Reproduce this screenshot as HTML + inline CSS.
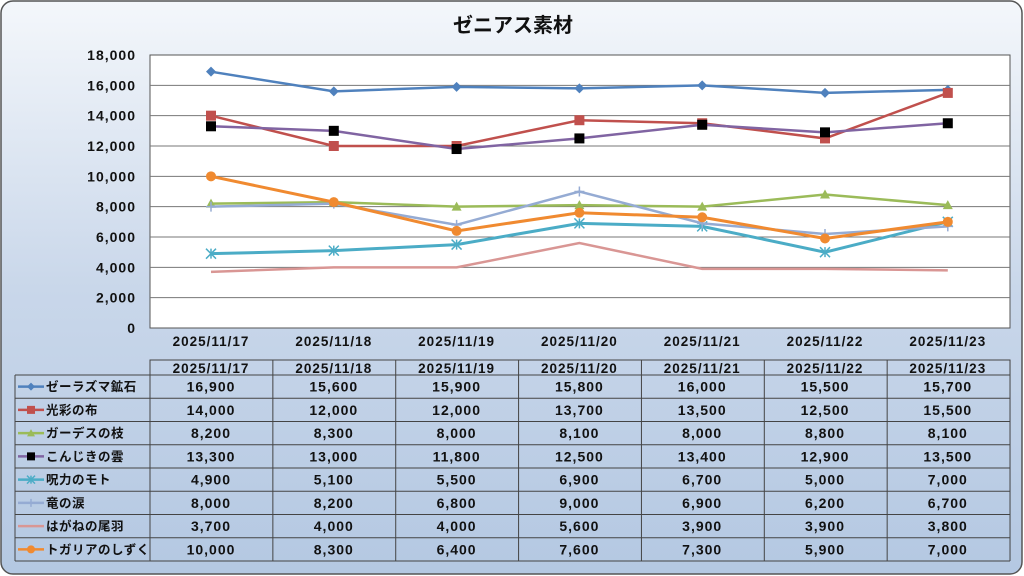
<!DOCTYPE html><html><head><meta charset="utf-8"><style>
body{margin:0;width:1024px;height:576px;overflow:hidden;background:#fff}
svg{display:block}
text{font-family:"Liberation Sans","Noto Sans CJK JP",sans-serif;font-weight:bold;fill:#111}
.n{letter-spacing:1px}
</style></head><body>
<svg id="s" width="1024" height="576" xmlns="http://www.w3.org/2000/svg">
<defs><linearGradient id="bg" x1="0" y1="0" x2="0" y2="1"><stop offset="0" stop-color="#f4f7fb"/><stop offset="0.5" stop-color="#c9d7ea"/><stop offset="1" stop-color="#b4c8e2"/></linearGradient></defs>
<rect x="1" y="1" width="1021" height="573" rx="12" fill="url(#bg)" stroke="#555" stroke-width="1.5"/>
<text x="513" y="32" font-size="20" text-anchor="middle">ゼニアス素材</text>
<rect x="150" y="55" width="860" height="273" fill="#fff" stroke="#555"/>
<g id="g"></g>
</svg>
<script>
(function(){
var g=document.getElementById('g');var h='';
var Y=function(v){return 328-v*273/18000;};
var X=function(i){return 211+i*122.8;};
function fmt(v){return v.toString().replace(/\B(?=(\d{3})+(?!\d))/g,',');}
for(var v=0;v<=18000;v+=2000){var y=Y(v);if(v>0&&v<18000)h+='<line x1="150" x2="1010" y1="'+y+'" y2="'+y+'" stroke="#777"/>';
h+='<text class="n" x="136" y="'+(y+5)+'" font-size="14" text-anchor="end">'+fmt(v)+'</text>';}
var dates=[17,18,19,20,21,22,23].map(function(d){return '2025/11/'+d;});
dates.forEach(function(d,i){h+='<text class="n" x="'+X(i)+'" y="346" font-size="13.5" text-anchor="middle">'+d+'</text>';});
var S=[
['ゼーラズマ鉱石','#4f81bd','d',[16900,15600,15900,15800,16000,15500,15700]],
['光彩の布','#c0504d','s',[14000,12000,12000,13700,13500,12500,15500]],
['ガーデスの枝','#9bbb59','t',[8200,8300,8000,8100,8000,8800,8100]],
['こんじきの雲','#8064a2','b',[13300,13000,11800,12500,13400,12900,13500]],
['呪力のモト','#4bacc6','x',[4900,5100,5500,6900,6700,5000,7000]],
['竜の涙','#95abd3','p',[8000,8200,6800,9000,6900,6200,6700]],
['はがねの尾羽','#d99694','n',[3700,4000,4000,5600,3900,3900,3800]],
['トガリアのしずく','#f08a30','c',[10000,8300,6400,7600,7300,5900,7000]]];
function mk(t,x,y,c,sc){sc=sc||1;var r=5*sc;
if(t=='d')return '<polygon points="'+x+','+(y-r)+' '+(x+r)+','+y+' '+x+','+(y+r)+' '+(x-r)+','+y+'" fill="'+c+'"/>';
if(t=='s')return '<rect x="'+(x-r)+'" y="'+(y-r)+'" width="'+2*r+'" height="'+2*r+'" fill="'+c+'"/>';
if(t=='b')return '<rect x="'+(x-r)+'" y="'+(y-r)+'" width="'+2*r+'" height="'+2*r+'" fill="#000"/>';
if(t=='t')return '<polygon points="'+x+','+(y-r)+' '+(x+r)+','+(y+r*0.8)+' '+(x-r)+','+(y+r*0.8)+'" fill="'+c+'"/>';
if(t=='c')return '<circle cx="'+x+'" cy="'+y+'" r="'+r+'" fill="'+c+'"/>';
if(t=='x')return '<path d="M'+(x-r)+' '+(y-r)+'L'+(x+r)+' '+(y+r)+'M'+(x-r)+' '+(y+r)+'L'+(x+r)+' '+(y-r)+'M'+x+' '+(y-r)+'V'+(y+r)+'" stroke="'+c+'" stroke-width="1.5"/>';
if(t=='p')return '<path d="M'+(x-r)+' '+y+'H'+(x+r)+'M'+x+' '+(y-r)+'V'+(y+r)+'" stroke="'+c+'" stroke-width="1.5"/>';
return '';}
S.forEach(function(s){h+='<polyline fill="none" stroke="'+s[1]+'" stroke-width="'+((s[2]=='c'||s[2]=='x')?3:2.5)+'" points="'+s[3].map(function(v,i){return X(i)+','+Y(v);}).join(' ')+'"/>';
s[3].forEach(function(v,i){h+=mk(s[2],X(i),Y(v),s[1]);});});
var tt=360,hb=375,rh=23.25;
h+='<rect x="150" y="'+tt+'" width="860" height="'+(hb-tt)+'" fill="none" stroke="#444"/>';
dates.forEach(function(d,i){h+='<text class="n" x="'+X(i)+'" y="'+(hb-2)+'" font-size="13.5" text-anchor="middle">'+d+'</text>';});
for(var i=0;i<=7;i++){var x=150+i*122.86;h+='<line x1="'+x+'" x2="'+x+'" y1="'+tt+'" y2="'+(hb+8*rh)+'" stroke="#444"/>';}
for(var r=0;r<=8;r++){var yy=hb+r*rh;h+='<line x1="15" x2="1010" y1="'+yy+'" y2="'+yy+'" stroke="#444"/>';}
h+='<line x1="15" x2="15" y1="'+hb+'" y2="'+(hb+8*rh)+'" stroke="#444"/>';
S.forEach(function(s,r){var y=hb+r*rh+rh/2;
h+='<line x1="18" x2="44" y1="'+y+'" y2="'+y+'" stroke="'+s[1]+'" stroke-width="2.5"/>'+mk(s[2],31,y,s[1],0.8);
h+='<text x="46" y="'+(y+4.5)+'" font-size="12.5" letter-spacing="0.5">'+s[0]+'</text>';
s[3].forEach(function(v,i){h+='<text class="n" x="'+X(i)+'" y="'+(y+5)+'" font-size="14" text-anchor="middle">'+fmt(v)+'</text>';});});
g.innerHTML=h;
})();
</script></body></html>
